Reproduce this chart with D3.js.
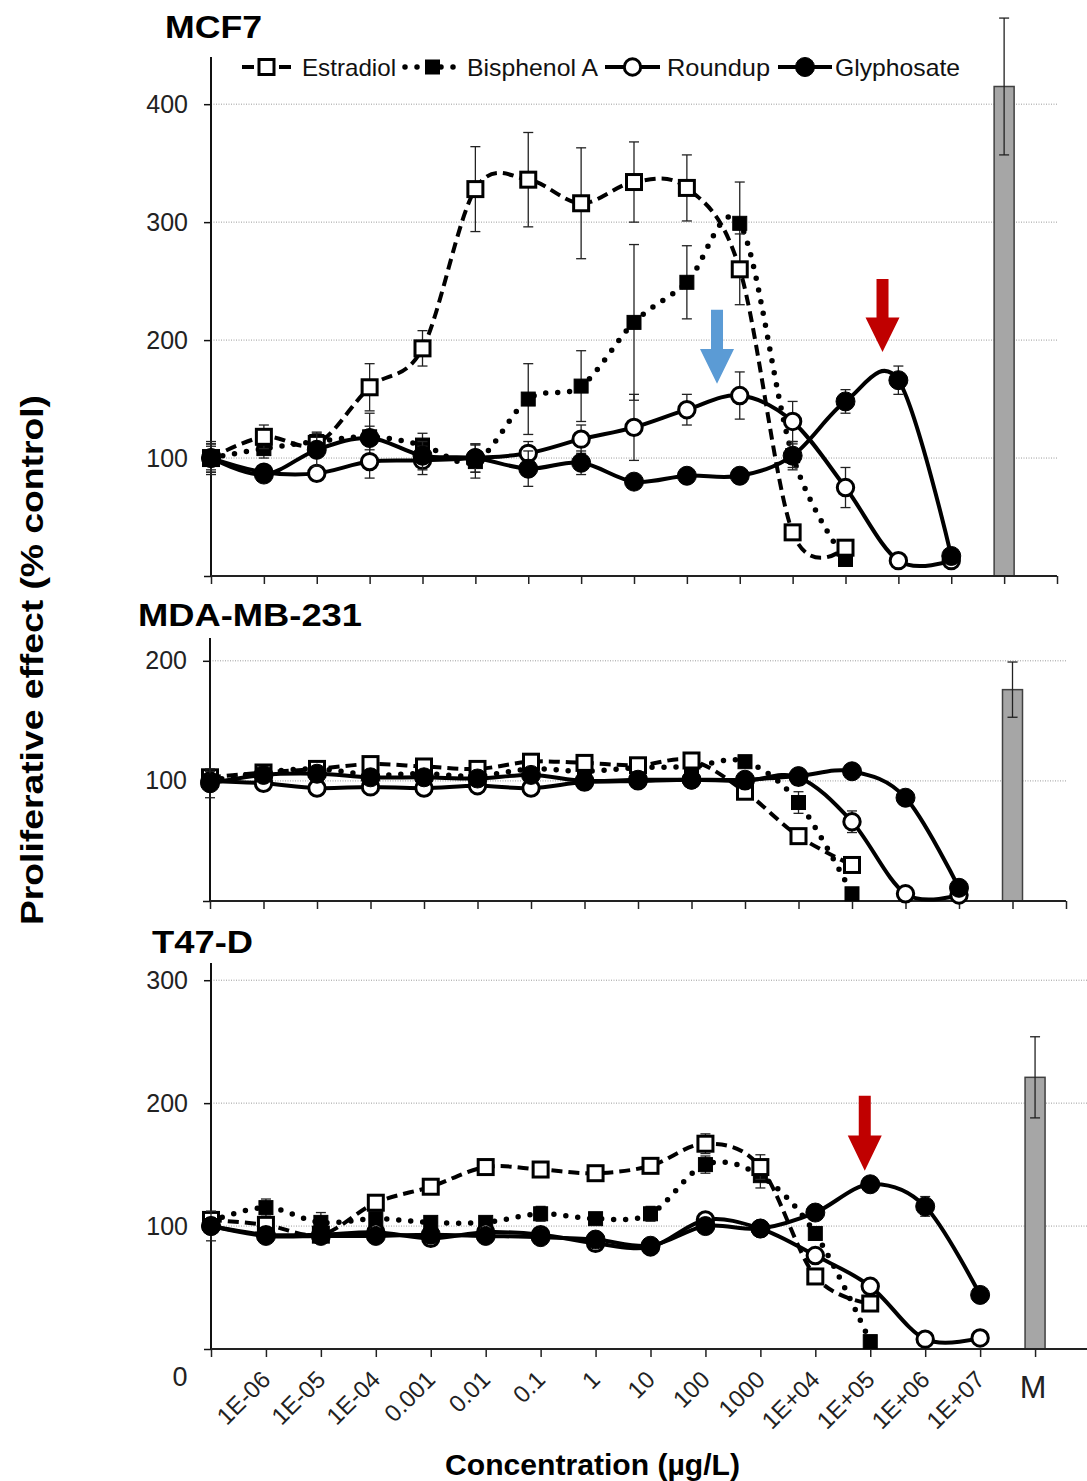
<!DOCTYPE html>
<html>
<head>
<meta charset="utf-8">
<script src="https://cdn.jsdelivr.net/npm/d3@7"></script>
<style>
  html, body { margin: 0; padding: 0; background: #fff; }
  svg { display: block; font-family: "Liberation Sans", Arial, sans-serif; }
</style>
</head>
<body>
<svg id="chart" width="1087" height="1481"></svg>
<script>
// ---------------- DATA ----------------
const categories = ["0","1E-06","1E-05","1E-04","0.001","0.01","0.1","1","10","100","1000","1E+04","1E+05","1E+06","1E+07","M"];
const seriesNames = ["Estradiol","Bisphenol A","Roundup","Glyphosate"];

// MCF7
const mcf7Estradiol     = [100,118,112,160,193,328,336,316,334,329,260,37,24];
const mcf7EstradiolErr  = [14,10,6,20,15,36,40,47,34,28,30,3,3];
const mcf7Bisphenol     = [100,108,114,118,111,97,150,161,215,249,299,102,14];
const mcf7BisphenolErr  = [12,8,8,20,10,14,30,30,66,31,35,12,2];
const mcf7Roundup       = [100,88,87,97,98,100,104,116,126,141,153,131,75,13,13];
const mcf7RoundupErr    = [12,5,5,14,12,12,10,12,28,13,20,17,17,2,2];
const mcf7Glyphosate    = [100,86,107,117,102,100,91,96,80,85,85,102,148,166,17];
const mcf7GlyphosateErr = [10,5,14,10,12,12,15,10,4,4,4,10,10,12,3];
const mcf7Control = 415, mcf7ControlErr = 58;

// MDA-MB-231
const mdaEstradiol     = [103,107,110,114,112,110,116,115,113,117,91,54,30];
const mdaEstradiolErr  = [6,3,3,3,3,3,3,3,3,3,3,3,3];
const mdaBisphenol     = [100,107,110,105,106,104,110,108,111,112,116,82,6];
const mdaBisphenolErr  = [5,3,3,3,3,3,3,3,3,3,3,9,2];
const mdaRoundup       = [100,98,94,95,94,96,94,99,100,101,100,103,66,6,5];
const mdaRoundupErr    = [8,2,2,2,2,2,2,2,2,2,2,2,9,1,1];
const mdaGlyphosate    = [98,105,106,103,103,102,105,100,101,101,101,104,108,86,11];
const mdaGlyphosateErr = [12,2,2,2,2,2,2,2,2,2,2,2,2,2,2];
const mdaControl = 176, mdaControlErr = 23;

// T47-D
const t47Estradiol     = [105,101,93,119,132,148,146,143,149,167,148,59,37];
const t47EstradiolErr  = [5,3,3,5,3,3,3,3,3,8,10,3,3];
const t47Bisphenol     = [104,115,103,106,103,103,110,106,110,150,141,94,6];
const t47BisphenolErr  = [8,7,8,5,4,4,6,4,6,7,10,5,1];
const t47Roundup       = [100,93,93,95,90,95,93,86,83,105,98,76,51,8,9];
const t47RoundupErr    = [3,2,2,2,2,2,2,2,2,2,2,2,2,1,1];
const t47Glyphosate    = [100,92,92,92,93,92,91,89,84,100,98,111,134,116,44];
const t47GlyphosateErr = [12,2,2,2,2,2,2,2,2,2,2,2,2,8,2];
const t47Control = 221, t47ControlErr = 33;

const mcf7Ticks = [100,200,300,400];
const mdaTicks  = [100,200];
const t47Ticks  = [100,200,300];

// ---------------- LAYOUT / STYLE ----------------
const svg = d3.select("#chart");
svg.append("rect").attr("width",1087).attr("height",1481).attr("fill","#fff");

const panels = [
  {title:"MCF7", tx:165, ty:38, tlen:97, x0:211, x1:1057, yB:576, yT:57, yMax:440, ticks:mcf7Ticks,
   series:[mcf7Estradiol,mcf7Bisphenol,mcf7Roundup,mcf7Glyphosate],
   errs:[mcf7EstradiolErr,mcf7BisphenolErr,mcf7RoundupErr,mcf7GlyphosateErr],
   ctrl:mcf7Control, ctrlErr:mcf7ControlErr},
  {title:"MDA-MB-231", tx:138, ty:626, tlen:224, x0:210, x1:1066, yB:901, yT:638, yMax:219, ticks:mdaTicks,
   series:[mdaEstradiol,mdaBisphenol,mdaRoundup,mdaGlyphosate],
   errs:[mdaEstradiolErr,mdaBisphenolErr,mdaRoundupErr,mdaGlyphosateErr],
   ctrl:mdaControl, ctrlErr:mdaControlErr},
  {title:"T47-D", tx:152, ty:953, tlen:101, x0:211, x1:1090, yB:1349, yT:963, yMax:314, ticks:t47Ticks,
   series:[t47Estradiol,t47Bisphenol,t47Roundup,t47Glyphosate],
   errs:[t47EstradiolErr,t47BisphenolErr,t47RoundupErr,t47GlyphosateErr],
   ctrl:t47Control, ctrlErr:t47ControlErr}
];

const styles = [
  {dash:"11,6", width:4, cap:"butt", marker:"sq", fill:"#fff"},
  {dash:"0,12", width:5.5, cap:"round", marker:"sq", fill:"#000"},
  {dash:null, width:4, cap:"butt", marker:"ci", fill:"#fff"},
  {dash:null, width:4, cap:"butt", marker:"ci", fill:"#000"}
];
const drawOrder = [1,0,2,3];

function drawMarker(g, st, cx, cy) {
  if (st.marker === "sq") {
    const s = st.fill === "#fff" ? 15 : 14;
    g.append("rect").attr("x",cx-s/2).attr("y",cy-s/2).attr("width",s).attr("height",s)
      .attr("fill",st.fill).attr("stroke","#000").attr("stroke-width", st.fill==="#fff"?3:1);
  } else {
    g.append("circle").attr("cx",cx).attr("cy",cy).attr("r", st.fill==="#fff"?8.2:9.5)
      .attr("fill",st.fill).attr("stroke","#000").attr("stroke-width", st.fill==="#fff"?3:1);
  }
}

panels.forEach(p => {
  const x = d3.scaleLinear().domain([0,16]).range([p.x0,p.x1]);
  const y = d3.scaleLinear().domain([0,p.yMax]).range([p.yB,p.yT]);
  const g = svg.append("g");

  // gridlines
  g.selectAll(".grid").data(p.ticks).enter().append("line")
    .attr("x1",p.x0).attr("x2",p.x1).attr("y1",d=>y(d)).attr("y2",d=>y(d))
    .attr("stroke","#9a9a9a").attr("stroke-width",1).attr("stroke-dasharray","1,1.5");

  // control bar
  const bw = 20;
  g.append("rect").attr("x",x(15)-bw/2).attr("width",bw)
    .attr("y",y(p.ctrl)).attr("height",y(0)-y(p.ctrl))
    .attr("fill","#a6a6a6").attr("stroke","#404040").attr("stroke-width",1.5);
  g.append("line").attr("x1",x(15)).attr("x2",x(15)).attr("y1",y(p.ctrl+p.ctrlErr)).attr("y2",y(p.ctrl-p.ctrlErr))
    .attr("stroke","#222").attr("stroke-width",1.3);
  [p.ctrl+p.ctrlErr, p.ctrl-p.ctrlErr].forEach(v => {
    g.append("line").attr("x1",x(15)-5).attr("x2",x(15)+5).attr("y1",y(v)).attr("y2",y(v))
      .attr("stroke","#222").attr("stroke-width",1.3);
  });

  // axes
  const yAxis = d3.axisLeft(y).tickValues([0].concat(p.ticks)).tickSize(7).tickFormat(d => d===0 ? "" : d);
  const ya = g.append("g").attr("transform",`translate(${p.x0},0)`).call(yAxis);
  ya.select(".domain").attr("d",`M-0,${p.yB}V${p.yT}`).attr("stroke","#111").attr("stroke-width",2);
  ya.selectAll(".tick line").attr("stroke","#111").attr("stroke-width",1.5);
  ya.selectAll(".tick text").attr("x",-23).attr("font-size",25).attr("fill","#222")
    .attr("font-family","'Liberation Sans', Arial, sans-serif");

  const xAxis = d3.axisBottom(x).tickValues(d3.range(0,17)).tickSize(8).tickFormat("");
  const xa = g.append("g").attr("transform",`translate(0,${p.yB})`).call(xAxis);
  xa.select(".domain").attr("d",`M${p.x0},0H${p.x1}`).attr("stroke","#222").attr("stroke-width",2);
  xa.selectAll(".tick line").attr("stroke","#222").attr("stroke-width",1.5);

  // title
  g.append("text").attr("x",p.tx).attr("y",p.ty).text(p.title)
    .attr("font-size",32).attr("font-weight","bold").attr("fill","#000")
    .attr("textLength",p.tlen).attr("lengthAdjust","spacingAndGlyphs");

  // series
  const line = d3.line().x((d,i)=>x(i)).y(d=>y(d)).curve(d3.curveCardinal.tension(0));
  drawOrder.forEach(si => {
    const vals = p.series[si], errs = p.errs[si], st = styles[si];
    const sg = g.append("g");
    vals.forEach((v,i) => {
      const e = errs[i];
      if (!e) return;
      sg.append("line").attr("x1",x(i)).attr("x2",x(i)).attr("y1",y(v+e)).attr("y2",y(Math.max(0,v-e)))
        .attr("stroke","#222").attr("stroke-width",1.3);
      [v+e, v-e].forEach(w => {
        sg.append("line").attr("x1",x(i)-5).attr("x2",x(i)+5).attr("y1",y(w)).attr("y2",y(w))
          .attr("stroke","#222").attr("stroke-width",1.3);
      });
    });
    sg.append("path").attr("d",line(vals)).attr("fill","none").attr("stroke","#000")
      .attr("stroke-width",st.width).attr("stroke-linecap",st.cap)
      .attr("stroke-dasharray",st.dash);
    vals.forEach((v,i) => drawMarker(sg, st, x(i), y(v)));
  });

  p.x = x; p.y = y;
});

// ---------------- LEGEND ----------------
const legendItems = [
  {si:0, x1:242, x2:291, tx:302, len:94},
  {si:1, x1:405, x2:460, tx:467, len:131},
  {si:2, x1:605, x2:660, tx:667, len:103},
  {si:3, x1:778, x2:832, tx:835, len:125}
];
const ly = 67;
legendItems.forEach(it => {
  const st = styles[it.si];
  const lg = svg.append("g");
  lg.append("line").attr("x1",it.x1).attr("x2",it.x2).attr("y1",ly).attr("y2",ly)
    .attr("stroke","#000").attr("stroke-width",st.width).attr("stroke-linecap",st.cap)
    .attr("stroke-dasharray", it.si===0 ? "12,25" : st.dash);
  drawMarker(lg, st, (it.x1+it.x2)/2, ly);
  lg.append("text").attr("x",it.tx).attr("y",ly+9).text(seriesNames[it.si])
    .attr("font-size",24).attr("fill","#111")
    .attr("textLength",it.len).attr("lengthAdjust","spacingAndGlyphs");
});

// ---------------- ARROWS ----------------
function arrow(p, xi, tipVal, lenPx, color) {
  const cx = p.x(xi), tip = p.y(tipVal);
  const top = tip - lenPx, headTop = tip - lenPx*0.47;
  const sw = 6, hw = 17;
  svg.append("path")
    .attr("d",`M${cx-sw},${top}H${cx+sw}V${headTop}H${cx+hw}L${cx},${tip}L${cx-hw},${headTop}H${cx-sw}Z`)
    .attr("fill",color);
}
arrow(panels[0], 9.57, 163, 74, "#5b9bd5");
arrow(panels[0], 12.7, 190, 73, "#c00000");
arrow(panels[2], 11.9, 145, 75, "#c00000");

// ---------------- AXIS LABELS ----------------
const pb = panels[2];
for (let i = 1; i <= 14; i++) {
  svg.append("text")
    .attr("transform",`translate(${pb.x(i)+6},${pb.yB+32}) rotate(-45)`)
    .attr("text-anchor","end").attr("font-size",24).attr("fill","#222")
    .text(categories[i]);
}
svg.append("text").attr("x",180).attr("y",1386).attr("text-anchor","middle")
  .attr("font-size",27).attr("fill","#222").text(categories[0]);
svg.append("text").attr("x",pb.x(15)-2).attr("y",1398).attr("text-anchor","middle")
  .attr("font-size",32).attr("fill","#222").text(categories[15]);

svg.append("text").attr("x",445).attr("y",1475).text("Concentration (µg/L)")
  .attr("font-size",29).attr("font-weight","bold").attr("fill","#000")
  .attr("textLength",295).attr("lengthAdjust","spacingAndGlyphs");

svg.append("text").attr("transform","translate(43,925) rotate(-90)")
  .text("Proliferative effect (% control)")
  .attr("font-size",31).attr("font-weight","bold").attr("fill","#000")
  .attr("textLength",530).attr("lengthAdjust","spacingAndGlyphs");
</script>
</body>
</html>
